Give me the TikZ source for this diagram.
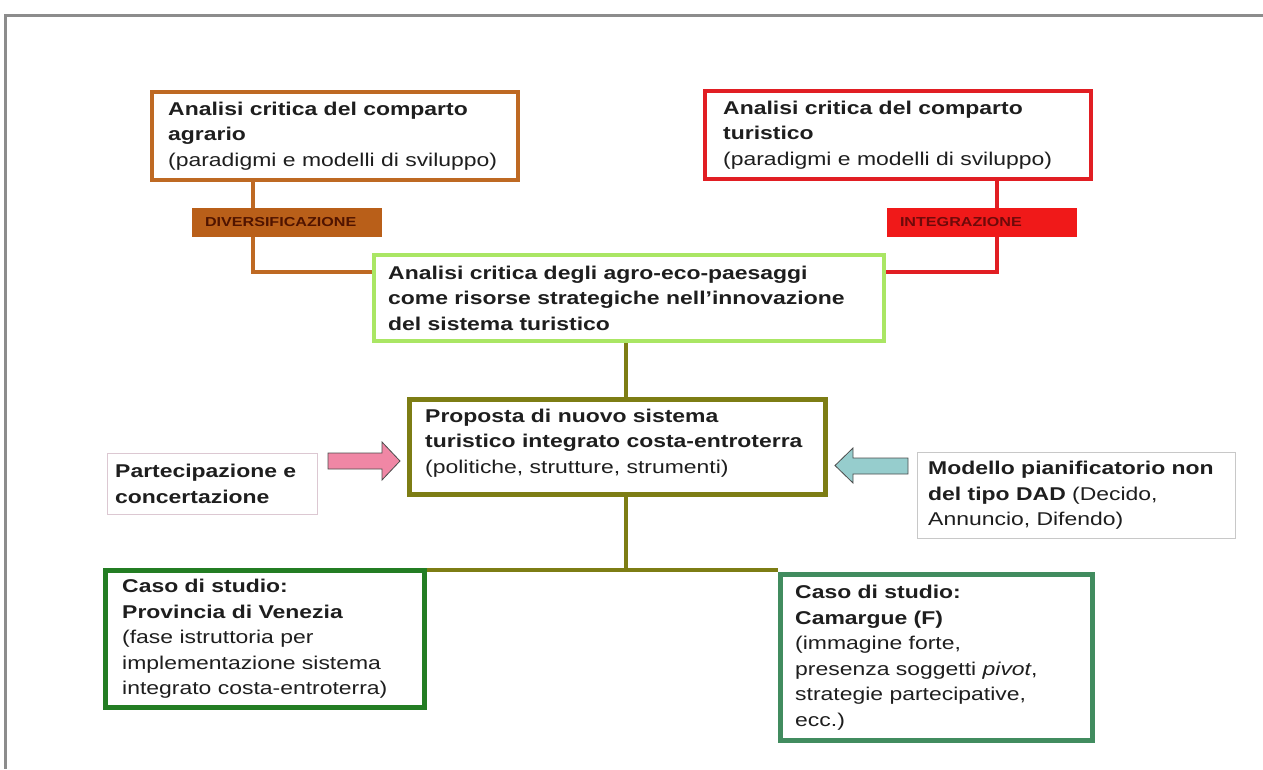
\documentclass[tikz,border=0pt]{standalone}
\usepackage{fontspec}
\setmainfont[FakeStretch=1.24]{Liberation Sans}
\usetikzlibrary{calc}

\definecolor{agrobrown}{RGB}{190,105,35}
\definecolor{divfill}{RGB}{185,95,25}
\definecolor{divtext}{RGB}{80,20,0}
\definecolor{turred}{RGB}{225,30,35}
\definecolor{intfill}{RGB}{240,25,25}
\definecolor{inttext}{RGB}{110,10,10}
\definecolor{lightgreen}{RGB}{170,230,100}
\definecolor{olivebox}{RGB}{125,125,20}
\definecolor{darkgreen}{RGB}{35,125,35}
\definecolor{seagreen}{RGB}{65,140,95}
\definecolor{pinkarrow}{RGB}{240,135,165}
\definecolor{tealarrow}{RGB}{150,205,205}
\definecolor{framegray}{RGB}{140,140,140}
\definecolor{pinkline}{RGB}{220,200,210}
\definecolor{grayline}{RGB}{200,200,200}
\definecolor{bodytext}{RGB}{30,30,30}

\tikzset{
  panel/.style={rectangle, draw, line width=4pt, fill=white, anchor=north west, inner sep=0pt},
  thinpanel/.style={panel, line width=0.9pt},
  label/.style={align=left, anchor=west, inner sep=0pt, text=bodytext,
    font=\fontsize{18.5}{25.5}\selectfont},
  tag/.style={rectangle, anchor=north west, inner ysep=0pt, inner xsep=13pt, outer sep=0pt,
    minimum height=29pt, align=left, font=\fontsize{13}{15}\selectfont\bfseries},
  link/.style={line width=4pt},
  blockarrow/.style={draw=black!70, line width=0.8pt, line join=miter},
}

\begin{document}
\begin{tikzpicture}[x=1pt, y=-1pt]
\useasboundingbox (0,0) rectangle (1263,769);

% page frame
\draw[framegray, line width=3pt] (1263,15) -- (5,15) -- (5,769);

% knees and junctions of the connectors
\coordinate (aknee) at (253,272);
\coordinate (bknee) at (997,272);
\coordinate (spine) at (626,570);

% upper boxes
\node[panel, draw=agrobrown, minimum width=366, minimum height=88] (A) at (150,90) {};
\node[panel, draw=turred, minimum width=386, minimum height=88] (B) at (703,89) {};

% connectors into the central analysis box
\draw[link, agrobrown] (A.south -| aknee) -- (aknee) -- (aknee -| 372,0);
\draw[link, turred] (B.south -| bknee) -- (bknee) -- (bknee -| 886,0);

\node[tag, fill=divfill, text=divtext, text width=164pt] (dv) at (192,208) {DIVERSIFICAZIONE};
\node[tag, fill=intfill, text=inttext, text width=164pt] (ig) at (887,208) {INTEGRAZIONE};

\node[panel, draw=lightgreen, minimum width=510, minimum height=86] (C) at (372,253) {};
\node[panel, draw=olivebox, line width=5pt, minimum width=416, minimum height=95] (D) at (407,397) {};

\draw[link, olivebox] (C.south -| spine) -- (D.north -| spine);
\draw[link, olivebox] (D.south -| spine) -- (spine);

\node[panel, draw=darkgreen, line width=5pt, minimum width=319, minimum height=137] (E) at (103,568) {};
\node[panel, draw=seagreen, line width=5pt, minimum width=312, minimum height=166] (F) at (778,572) {};
\draw[link, olivebox] (E.east |- spine) -- (F.west |- spine);

\node[thinpanel, draw=pinkline, minimum width=210, minimum height=61] (P) at (107,453) {};
\node[thinpanel, draw=grayline, minimum width=318, minimum height=86] (M) at (917,452) {};

% block arrows pointing at the proposal box
\draw[blockarrow, fill=pinkarrow] (328,453) -- (382,453) -- (382,442) -- (400,461)
  -- (382,480) -- (382,469) -- (328,469) -- cycle;
\draw[blockarrow, fill=tealarrow] (908,458) -- (853,458) -- (853,448) -- (835,465.5)
  -- (853,483) -- (853,474) -- (908,474) -- cycle;

% texts
\node[label] (At) at ($(A.west)+(18,0)$) {\textbf{Analisi critica del comparto}\\\textbf{agrario}\\(paradigmi e modelli di sviluppo)};
\node[label] (Bt) at ($(B.west)+(20,0)$) {\textbf{Analisi critica del comparto}\\\textbf{turistico}\\(paradigmi e modelli di sviluppo)};
\node[label] (Ct) at ($(C.west)+(16,0)$) {\bfseries Analisi critica degli agro-eco-paesaggi\\\bfseries come risorse strategiche nell’innovazione\\\bfseries del sistema turistico};
\node[label] (Dt) at ($(D.west)+(18,-4)$) {\textbf{Proposta di nuovo sistema}\\\textbf{turistico integrato costa-entroterra}\\(politiche, strutture, strumenti)};
\node[label] (Pt) at ($(P.west)+(8,0)$) {\bfseries Partecipazione e\\\bfseries concertazione};
\node[label] (Mt) at ($(M.west)+(11,0)$) {\textbf{Modello pianificatorio non}\\\textbf{del tipo DAD} (Decido,\\Annuncio, Difendo)};
\node[label] (Et) at ($(E.west)+(19,0)$) {\textbf{Caso di studio:}\\\textbf{Provincia di Venezia}\\(fase istruttoria per\\implementazione sistema\\integrato costa-entroterra)};
\node[label] (Ft) at ($(F.west)+(17,0)$) {\textbf{Caso di studio:}\\\textbf{Camargue (F)}\\(immagine forte,\\presenza soggetti \textit{pivot},\\strategie partecipative,\\ecc.)};
\end{tikzpicture}
\end{document}
